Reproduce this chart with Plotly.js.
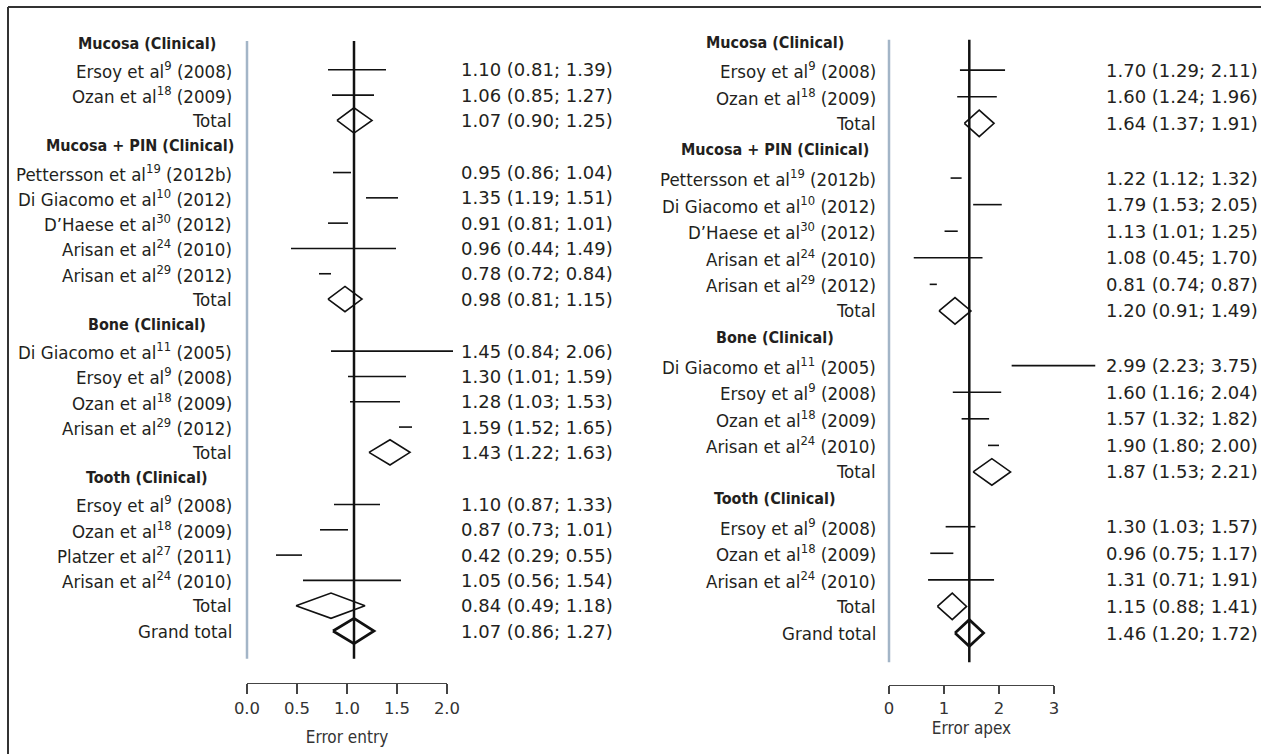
<!DOCTYPE html>
<html>
<head>
<meta charset="utf-8">
<script src="https://cdn.plot.ly/plotly-3.0.1.min.js"></script>
<style>html,body{margin:0;padding:0;background:#fff;}#chart{width:1261px;height:754px;}</style>
</head>
<body>
<div id="chart"></div>
<script>
// ---------- DATA ----------
const groupNames = ["Mucosa (Clinical)", "Mucosa + PIN (Clinical)", "Bone (Clinical)", "Tooth (Clinical)"];

// Error entry (left panel)
const entryStudies = [
  ["Ersoy et al<sup>9</sup> (2008)", "Ozan et al<sup>18</sup> (2009)"],
  ["Pettersson et al<sup>19</sup> (2012b)", "Di Giacomo et al<sup>10</sup> (2012)", "D\u2019Haese et al<sup>30</sup> (2012)", "Arisan et al<sup>24</sup> (2010)", "Arisan et al<sup>29</sup> (2012)"],
  ["Di Giacomo et al<sup>11</sup> (2005)", "Ersoy et al<sup>9</sup> (2008)", "Ozan et al<sup>18</sup> (2009)", "Arisan et al<sup>29</sup> (2012)"],
  ["Ersoy et al<sup>9</sup> (2008)", "Ozan et al<sup>18</sup> (2009)", "Platzer et al<sup>27</sup> (2011)", "Arisan et al<sup>24</sup> (2010)"]
];
const entryEst  = [[1.10, 1.06], [0.95, 1.35, 0.91, 0.96, 0.78], [1.45, 1.30, 1.28, 1.59], [1.10, 0.87, 0.42, 1.05]];
const entryLow  = [[0.81, 0.85], [0.86, 1.19, 0.81, 0.44, 0.72], [0.84, 1.01, 1.03, 1.52], [0.87, 0.73, 0.29, 0.56]];
const entryHigh = [[1.39, 1.27], [1.04, 1.51, 1.01, 1.49, 0.84], [2.06, 1.59, 1.53, 1.65], [1.33, 1.01, 0.55, 1.54]];
const entryTotalEst  = [1.07, 0.98, 1.43, 0.84];
const entryTotalLow  = [0.90, 0.81, 1.22, 0.49];
const entryTotalHigh = [1.25, 1.15, 1.63, 1.18];
const entryGrand = [1.07, 0.86, 1.27];
const entryTickVals = [0, 0.5, 1.0, 1.5, 2.0];
const entryTickText = ["0.0", "0.5", "1.0", "1.5", "2.0"];
const entryTitle = "Error entry";

// Error apex (right panel)
const apexStudies = [
  ["Ersoy et al<sup>9</sup> (2008)", "Ozan et al<sup>18</sup> (2009)"],
  ["Pettersson et al<sup>19</sup> (2012b)", "Di Giacomo et al<sup>10</sup> (2012)", "D\u2019Haese et al<sup>30</sup> (2012)", "Arisan et al<sup>24</sup> (2010)", "Arisan et al<sup>29</sup> (2012)"],
  ["Di Giacomo et al<sup>11</sup> (2005)", "Ersoy et al<sup>9</sup> (2008)", "Ozan et al<sup>18</sup> (2009)", "Arisan et al<sup>24</sup> (2010)"],
  ["Ersoy et al<sup>9</sup> (2008)", "Ozan et al<sup>18</sup> (2009)", "Arisan et al<sup>24</sup> (2010)"]
];
const apexEst  = [[1.70, 1.60], [1.22, 1.79, 1.13, 1.08, 0.81], [2.99, 1.60, 1.57, 1.90], [1.30, 0.96, 1.31]];
const apexLow  = [[1.29, 1.24], [1.12, 1.53, 1.01, 0.45, 0.74], [2.23, 1.16, 1.32, 1.80], [1.03, 0.75, 0.71]];
const apexHigh = [[2.11, 1.96], [1.32, 2.05, 1.25, 1.70, 0.87], [3.75, 2.04, 1.82, 2.00], [1.57, 1.17, 1.91]];
const apexTotalEst  = [1.64, 1.20, 1.87, 1.15];
const apexTotalLow  = [1.37, 0.91, 1.53, 0.88];
const apexTotalHigh = [1.91, 1.49, 2.21, 1.41];
const apexGrand = [1.46, 1.20, 1.72];
const apexTickVals = [0, 1, 2, 3];
const apexTickText = ["0", "1", "2", "3"];
const apexTitle = "Error apex";

// ---------- LAYOUT HELPERS ----------
const W = 1261, H = 754;
const LABEL_FONT = "DejaVu Sans Condensed, DejaVu Sans, sans-serif";
const NUM_FONT = "DejaVu Sans, sans-serif";
const TXT = "#231f20";
const HEADER_SIZE = 16;
const fmt = v => v.toFixed(2);

function buildRows(studies, est, low, high, tEst, tLow, tHigh, grand) {
  const rows = [];
  let pos = 0;
  let prevHeader = false;
  const push = r => {
    if (rows.length) pos += prevHeader ? 1.06 : 1.0;
    r.pos = pos; rows.push(r); prevHeader = (r.kind === "h");
  };
  for (let g = 0; g < groupNames.length; g++) {
    push({kind: "h", label: groupNames[g]});
    for (let i = 0; i < studies[g].length; i++)
      push({kind: "s", label: studies[g][i], est: est[g][i], low: low[g][i], high: high[g][i]});
    push({kind: "t", label: "Total", est: tEst[g], low: tLow[g], high: tHigh[g]});
  }
  push({kind: "g", label: "Grand total", est: grand[0], low: grand[1], high: grand[2]});
  return rows;
}

const panels = [
  {rows: buildRows(entryStudies, entryEst, entryLow, entryHigh, entryTotalEst, entryTotalLow, entryTotalHigh, entryGrand),
   xa: "x", ya: "y", xk: "xaxis", yk: "yaxis", ax: "x3", ay: "y3", axk: "xaxis3", ayk: "yaxis3",
   dom: [0, 630.5], zeroPx: 247, unitPx: 100, firstPx: 43, lastPx: 631,
   labelRight: 233.5, headerCenter: 147, valueLeft: 459, axisY: 683, ticklen: 10,
   tickVals: entryTickVals, tickText: entryTickText, range: [0, 2], title: entryTitle, standoff: 14},
  {rows: buildRows(apexStudies, apexEst, apexLow, apexHigh, apexTotalEst, apexTotalLow, apexTotalHigh, apexGrand),
   xa: "x2", ya: "y2", xk: "xaxis2", yk: "yaxis2", ax: "x4", ay: "y4", axk: "xaxis4", ayk: "yaxis4",
   dom: [630.5, 1261], zeroPx: 889, unitPx: 55, firstPx: 42, lastPx: 633,
   labelRight: 878, headerCenter: 775, valueLeft: 1104, axisY: 685, ticklen: 8,
   tickVals: apexTickVals, tickText: apexTickText, range: [0, 3], title: apexTitle, standoff: 5}
];

const traces = [];
const annotations = [];
const layout = {
  width: W, height: H,
  margin: {l: 0, r: 0, t: 0, b: 0, pad: 0},
  paper_bgcolor: "#ffffff", plot_bgcolor: "rgba(0,0,0,0)",
  showlegend: false,
  font: {family: NUM_FONT, color: TXT},
  shapes: [
    {type: "line", xref: "paper", yref: "paper", x0: 8 / W, x1: 1, y0: 1 - 7 / H, y1: 1 - 7 / H, line: {color: "#333333", width: 2}},
    {type: "line", xref: "paper", yref: "paper", x0: 8 / W, x1: 8 / W, y0: 1 - 7 / H, y1: 0, line: {color: "#333333", width: 2}}
  ]
};

panels.forEach(p => {
  const rows = p.rows;
  const span = rows[rows.length - 1].pos;
  const rowPx = (p.lastPx - p.firstPx) / span;
  layout[p.xk] = {domain: [p.dom[0] / W, p.dom[1] / W],
    range: [(p.dom[0] - p.zeroPx) / p.unitPx, (p.dom[1] - p.zeroPx) / p.unitPx],
    visible: false, fixedrange: true};
  layout[p.yk] = {domain: [0, 1], range: [(H - p.firstPx) / rowPx, -p.firstPx / rowPx],
    visible: false, fixedrange: true};
  const ax0 = p.zeroPx + p.range[0] * p.unitPx, ax1 = p.zeroPx + p.range[1] * p.unitPx;
  layout[p.axk] = {domain: [ax0 / W, ax1 / W], range: p.range, anchor: p.ay,
    showline: true, linecolor: "#444444", linewidth: 1.3, mirror: false,
    ticks: "outside", ticklen: p.ticklen, tickwidth: 1.3, tickcolor: "#444444",
    tickvals: p.tickVals, ticktext: p.tickText, tickfont: {family: NUM_FONT, size: 16.5, color: "#333333"},
    showgrid: false, zeroline: false, fixedrange: true,
    title: {text: p.title, font: {family: LABEL_FONT, size: 17, color: "#333333"}, standoff: p.standoff}};
  const yb = (H - p.axisY) / H;
  layout[p.ayk] = {domain: [yb, yb + 0.02], range: [0, 1], visible: false, fixedrange: true};
  traces.push({x: [p.range[0]], y: [0.5], xaxis: p.ax, yaxis: p.ay, mode: "markers",
    marker: {opacity: 0}, hoverinfo: "skip"});

  const grand = rows[rows.length - 1];
  const top = -0.08, bottom = grand.pos + 1.1;
  traces.push({x: [0, 0], y: [top, bottom], xaxis: p.xa, yaxis: p.ya, mode: "lines",
    line: {color: "#a3b5c7", width: 2.5}, hoverinfo: "skip"});
  traces.push({x: [grand.est, grand.est], y: [top, bottom], xaxis: p.xa, yaxis: p.ya, mode: "lines",
    line: {color: "#111111", width: 2.5}, hoverinfo: "skip"});
  const cx = [], cy = [];
  const dx = [], dy = [], gx = [], gy = [];
  const hh = 0.5;
  rows.forEach(r => {
    if (r.kind === "s") { cx.push(r.low, r.high, null); cy.push(r.pos, r.pos, null); }
    if (r.kind === "t" || r.kind === "g") {
      const X = r.kind === "t" ? dx : gx, Y = r.kind === "t" ? dy : gy;
      X.push(r.low, r.est, r.high, r.est, r.low, null);
      Y.push(r.pos, r.pos - hh, r.pos, r.pos + hh, r.pos, null);
    }
  });
  traces.push({x: cx, y: cy, xaxis: p.xa, yaxis: p.ya, mode: "lines",
    line: {color: "#111111", width: 1.6}, hoverinfo: "skip"});
  traces.push({x: dx, y: dy, xaxis: p.xa, yaxis: p.ya, mode: "lines",
    line: {color: "#111111", width: 1.6}, hoverinfo: "skip"});
  traces.push({x: gx, y: gy, xaxis: p.xa, yaxis: p.ya, mode: "lines",
    line: {color: "#111111", width: 2.7}, hoverinfo: "skip"});

  rows.forEach(r => {
    if (r.kind === "h") {
      const half = r.label.length * HEADER_SIZE * 0.51 / 2;
      const cxh = Math.min(p.headerCenter, p.labelRight - half);
      annotations.push({xref: "paper", yref: p.ya, x: cxh / W, y: r.pos,
        xanchor: "center", yanchor: "middle", showarrow: false,
        text: "<b>" + r.label + "</b>", font: {family: LABEL_FONT, size: HEADER_SIZE, color: TXT}});
    } else {
      annotations.push({xref: "paper", yref: p.ya, x: p.labelRight / W, y: r.pos,
        xanchor: "right", yanchor: "middle", showarrow: false,
        text: r.label, font: {family: LABEL_FONT, size: 18.5, color: TXT}});
      annotations.push({xref: "paper", yref: p.ya, x: p.valueLeft / W, y: r.pos,
        xanchor: "left", yanchor: "middle", showarrow: false,
        text: fmt(r.est) + " (" + fmt(r.low) + "; " + fmt(r.high) + ")",
        font: {family: NUM_FONT, size: 18, color: TXT}});
    }
  });
});
layout.annotations = annotations;

Plotly.newPlot("chart", traces, layout, {displayModeBar: false, staticPlot: true});
</script>
</body>
</html>
